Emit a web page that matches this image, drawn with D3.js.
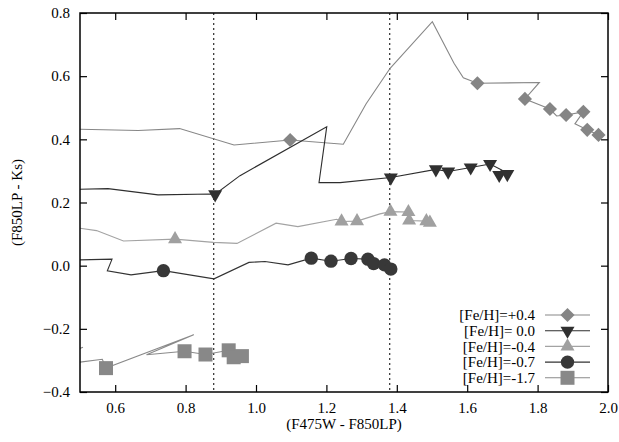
<!DOCTYPE html>
<html>
<head>
<meta charset="utf-8">
<script src="https://cdn.jsdelivr.net/npm/d3@7"></script>
<style>
  body { margin: 0; background: #fff; }
  svg { display: block; font-family: "Liberation Serif", "DejaVu Serif", serif; }
</style>
</head>
<body>
<div id="chart"></div>
<script>
// model tracks (lines) and marked points
const feh04Line = [[0.5,0.432],[0.665,0.428],[0.783,0.434],[0.9375,0.382],[0.977,0.386],[1.097,0.398],[1.248,0.3845],[1.3125,0.512],[1.381,0.625],[1.501,0.7725],[1.5625,0.641],[1.589,0.595],[1.629,0.5775],[1.805,0.580],[1.764,0.528],[1.835,0.496],[1.854,0.474],[1.881,0.477],[1.930,0.487],[1.906,0.449],[1.941,0.430],[1.973,0.414]];
const feh04Pts = [[1.097,0.398],[1.629,0.5775],[1.764,0.528],[1.835,0.496],[1.881,0.477],[1.930,0.487],[1.941,0.430],[1.973,0.414]];

const feh00Line = [[0.5,0.242],[0.5795,0.244],[0.7216,0.224],[0.873,0.227],[0.884,0.226],[0.9545,0.285],[1.201,0.440],[1.179,0.263],[1.239,0.263],[1.383,0.279],[1.511,0.305],[1.546,0.298],[1.610,0.311],[1.665,0.322],[1.698,0.303],[1.691,0.287],[1.714,0.290]];
const feh00Pts = [[0.884,0.226],[1.383,0.279],[1.511,0.305],[1.546,0.298],[1.610,0.311],[1.665,0.322],[1.691,0.287],[1.714,0.290]];

const fehm04Line = [[0.5,0.1187],[0.547,0.111],[0.6236,0.078],[0.770,0.0839],[0.879,0.0737],[0.946,0.0706],[1.057,0.1345],[1.119,0.1237],[1.229,0.147],[1.243,0.140],[1.287,0.141],[1.352,0.164],[1.382,0.171],[1.433,0.170],[1.435,0.143],[1.484,0.141],[1.494,0.136]];
const fehm04Pts = [[0.770,0.0839],[1.243,0.140],[1.287,0.141],[1.382,0.171],[1.433,0.170],[1.435,0.143],[1.484,0.141],[1.494,0.136]];

const fehm07Line = [[0.5,0.0184],[0.591,0.0206],[0.5776,-0.0165],[0.645,-0.029],[0.737,-0.0158],[0.8807,-0.0418],[0.980,0.0104],[1.0256,0.0130],[1.091,0.0025],[1.157,0.0237],[1.213,0.0142],[1.270,0.0228],[1.318,0.0206],[1.334,0.0066],[1.365,0.0025],[1.383,-0.0108]];
const fehm07Pts = [[0.737,-0.0158],[1.157,0.0237],[1.213,0.0142],[1.270,0.0228],[1.318,0.0206],[1.334,0.0066],[1.365,0.0025],[1.383,-0.0108]];

const fehm17Line = [[0.49,-0.266],[0.5085,-0.2585],null,[0.5,-0.3054],[0.5634,-0.2965],[0.5739,-0.3244],[0.823,-0.219],[0.689,-0.282],[0.797,-0.271],[0.8565,-0.2813],[0.9224,-0.268],[0.9366,-0.290],[0.960,-0.2864]];
const fehm17Pts = [[0.5739,-0.3244],[0.797,-0.271],[0.8565,-0.2813],[0.9224,-0.268],[0.9366,-0.290],[0.960,-0.2864]];

const seriesNames = ["[Fe/H]=+0.4", "[Fe/H]= 0.0", "[Fe/H]=-0.4", "[Fe/H]=-0.7", "[Fe/H]=-1.7"];
const xTicks = [0.6, 0.8, 1.0, 1.2, 1.4, 1.6, 1.8, 2.0];
const yTicks = [-0.4, -0.2, 0.0, 0.2, 0.4, 0.6, 0.8];
const refLines = [0.88, 1.38];

const series = [
  {name: seriesNames[0], line: feh04Line, pts: feh04Pts, color: "#878787", mark: "#858585", sym: d3.symbolSquare, size: 100, rot: 45},
  {name: seriesNames[1], line: feh00Line, pts: feh00Pts, color: "#2e2e2e", mark: "#303030", sym: d3.symbolTriangle, size: 85, rot: 180},
  {name: seriesNames[2], line: fehm04Line, pts: fehm04Pts, color: "#a3a3a3", mark: "#a0a0a0", sym: d3.symbolTriangle, size: 85, rot: 0},
  {name: seriesNames[3], line: fehm07Line, pts: fehm07Pts, color: "#333333", mark: "#383838", sym: d3.symbolCircle, size: 140, rot: 0},
  {name: seriesNames[4], line: fehm17Line, pts: fehm17Pts, color: "#8a8a8a", mark: "#888888", sym: d3.symbolSquare, size: 196, rot: 0}
];

const W = 619, H = 442;
const margin = {top: 13, right: 11, bottom: 50, left: 80};
const width = W - margin.left - margin.right,
      height = H - margin.top - margin.bottom;

const svg = d3.select("#chart").append("svg")
    .attr("width", W)
    .attr("height", H);

const g = svg.append("g")
    .attr("transform", "translate(" + margin.left + "," + margin.top + ")");

const x = d3.scaleLinear().domain([0.5, 2.0]).range([0, width]);
const y = d3.scaleLinear().domain([-0.4, 0.8]).range([height, 0]);

g.append("clipPath").attr("id", "plotclip")
  .append("rect").attr("width", width).attr("height", height);

// axes, ticks pointing inwards on all four sides
const fmt = d3.format(".1f");
g.append("g")
    .attr("transform", "translate(0," + height + ")")
    .call(d3.axisBottom(x).tickValues(xTicks).tickFormat(fmt).tickSizeInner(-7).tickSizeOuter(0).tickPadding(10));
g.append("g")
    .call(d3.axisLeft(y).tickValues(yTicks).tickFormat(fmt).tickSizeInner(-7).tickSizeOuter(0).tickPadding(10));
g.append("g")
    .call(d3.axisTop(x).tickValues(xTicks).tickFormat("").tickSizeInner(-7).tickSizeOuter(0));
g.append("g")
    .attr("transform", "translate(" + width + ",0)")
    .call(d3.axisRight(y).tickValues(yTicks).tickFormat("").tickSizeInner(-7).tickSizeOuter(0));

g.selectAll(".domain").remove();
g.selectAll(".tick line").attr("stroke", "#000").attr("stroke-width", 1.2);
g.selectAll(".tick text").style("font-size", "15px").style("font-family", "Liberation Serif").attr("fill", "#000");

// dotted reference lines
g.selectAll(".ref")
  .data(refLines)
  .enter().append("line")
    .attr("class", "ref")
    .attr("x1", d => x(d)).attr("x2", d => x(d))
    .attr("y1", 0).attr("y2", height)
    .attr("stroke", "#000")
    .attr("stroke-width", 1)
    .attr("stroke-dasharray", "2,3");

const line = d3.line()
    .defined(d => d)
    .x(d => x(d[0]))
    .y(d => y(d[1]));

const plot = g.append("g").attr("clip-path", "url(#plotclip)");

series.forEach(function(s) {
  plot.append("path")
      .datum(s.line)
      .attr("fill", "none")
      .attr("stroke", s.color)
      .attr("stroke-width", 1.1)
      .attr("d", line);
});

series.forEach(function(s) {
  const sym = d3.symbol().type(s.sym).size(s.size);
  plot.selectAll(null)
    .data(s.pts)
    .enter().append("path")
      .attr("d", sym)
      .attr("transform", d => "translate(" + x(d[0]) + "," + y(d[1]) + ") rotate(" + s.rot + ")")
      .attr("fill", s.mark);
});

// frame
g.append("rect")
    .attr("width", width)
    .attr("height", height)
    .attr("fill", "none")
    .attr("stroke", "#000")
    .attr("stroke-width", 1.5);

// legend
const legend = g.selectAll(".legend")
    .data(series)
    .enter().append("g")
    .attr("class", "legend")
    .attr("transform", (d, i) => "translate(0," + (302 + i * 15.7) + ")");

legend.append("text")
    .attr("x", 455)
    .attr("dy", "0.35em")
    .attr("text-anchor", "end")
    .style("font-size", "15px")
    .text(d => d.name);

legend.append("line")
    .attr("x1", 465).attr("x2", 510)
    .attr("stroke", d => d.color)
    .attr("stroke-width", 1.1);

legend.append("path")
    .attr("d", d => d3.symbol().type(d.sym).size(d.size)())
    .attr("transform", d => "translate(487.5,0) rotate(" + d.rot + ")")
    .attr("fill", d => d.mark);

// axis titles
svg.append("text")
    .attr("x", margin.left + width / 2)
    .attr("y", 429)
    .attr("text-anchor", "middle")
    .style("font-size", "15px")
    .text("(F475W - F850LP)");

svg.append("text")
    .attr("transform", "translate(17," + (margin.top + height / 2) + ") rotate(-90)")
    .attr("text-anchor", "middle")
    .attr("dy", "0.35em")
    .style("font-size", "15px")
    .text("(F850LP - Ks)");
</script>
</body>
</html>
